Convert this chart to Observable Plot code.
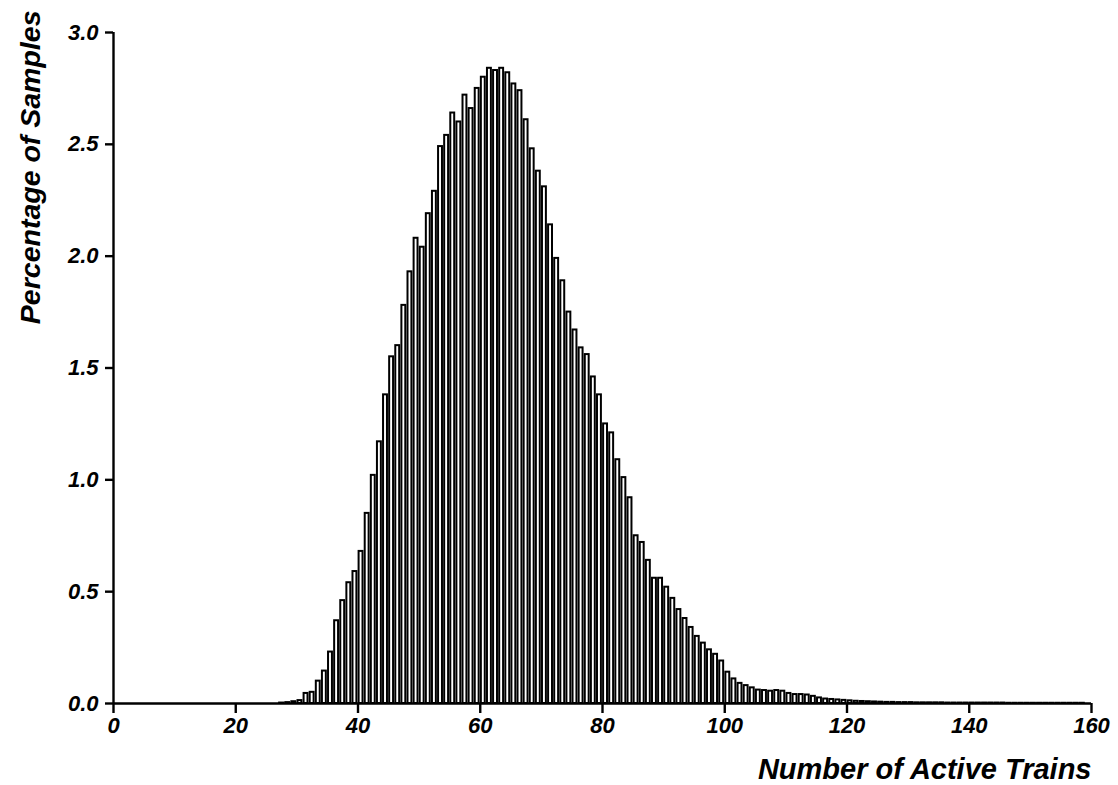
<!DOCTYPE html>
<html>
<head>
<meta charset="utf-8">
<script src="https://cdn.jsdelivr.net/npm/d3@7"></script>
<script src="https://cdn.jsdelivr.net/npm/@observablehq/plot@0.6"></script>
<style>
  html, body { margin: 0; padding: 0; background: #ffffff; }
</style>
</head>
<body>
<div id="chart"></div>
<script>
// Number of active trains (lower edge of each unit-wide bin)
const trains = [
  0,1,2,3,4,5,6,7,8,9,
  10,11,12,13,14,15,16,17,18,19,
  20,21,22,23,24,25,26,27,28,29,
  30,31,32,33,34,35,36,37,38,39,
  40,41,42,43,44,45,46,47,48,49,
  50,51,52,53,54,55,56,57,58,59,
  60,61,62,63,64,65,66,67,68,69,
  70,71,72,73,74,75,76,77,78,79,
  80,81,82,83,84,85,86,87,88,89,
  90,91,92,93,94,95,96,97,98,99,
  100,101,102,103,104,105,106,107,108,109,
  110,111,112,113,114,115,116,117,118,119,
  120,121,122,123,124,125,126,127,128,129,
  130,131,132,133,134,135,136,137,138,139,
  140,141,142,143,144,145,146,147,148,149,
  150,151,152,153,154,155,156,157,158,159
];

// Percentage of samples per bin
const percentage = [
  0,0,0,0,0,0,0,0,0,0,
  0,0,0,0,0,0,0,0,0,0,
  0,0,0,0,0,0,0,0.002,0.004,0.008,
  0.013,0.045,0.05,0.10,0.145,0.23,0.37,0.46,0.54,0.59,
  0.68,0.85,1.02,1.17,1.38,1.55,1.60,1.78,1.93,2.08,
  2.04,2.19,2.29,2.49,2.54,2.64,2.60,2.72,2.66,2.75,
  2.80,2.84,2.83,2.84,2.82,2.77,2.74,2.61,2.48,2.38,
  2.31,2.14,1.99,1.89,1.75,1.67,1.59,1.56,1.46,1.38,
  1.25,1.21,1.09,1.01,0.92,0.75,0.72,0.64,0.56,0.56,
  0.52,0.47,0.42,0.38,0.34,0.30,0.27,0.24,0.22,0.19,
  0.14,0.11,0.09,0.08,0.07,0.06,0.058,0.055,0.058,0.055,
  0.045,0.04,0.04,0.038,0.032,0.025,0.02,0.018,0.016,0.014,
  0.012,0.01,0.009,0.008,0.007,0.006,0.005,0.005,0.004,0.004,
  0.004,0.003,0.003,0.003,0.003,0.003,0.002,0.002,0.002,0.002,
  0.002,0.002,0.002,0.002,0.002,0.002,0.001,0.001,0.001,0.001,
  0.001,0.001,0.001,0.001,0.001,0.001,0.001,0.001,0.001,0
];

const xTicks = [0, 20, 40, 60, 80, 100, 120, 140, 160];
const yTicks = [0, 0.5, 1.0, 1.5, 2.0, 2.5, 3.0];
const xTitle = "Number of Active Trains";
const yTitle = "Percentage of Samples";

const bins = trains.map((t, i) => ({lo: t, hi: t + 1, v: percentage[i]}));

const font = "'Liberation Sans', Arial, Helvetica, sans-serif";

const chart = Plot.plot({
  width: 1118,
  height: 785,
  marginLeft: 113,
  marginRight: 27,
  marginTop: 32,
  marginBottom: 82,
  style: {
    fontFamily: font,
    fontStyle: "italic",
    fontWeight: "bold",
    fontSize: "21px",
    background: "#ffffff",
    color: "#000000"
  },
  x: {domain: [0, 160]},
  y: {domain: [0, 3]},
  marks: [
    Plot.rectY(bins, {
      x1: "lo", x2: "hi", y: "v",
      fill: "white", stroke: "black", strokeWidth: 2,
      insetLeft: 1.1, insetRight: 1.1
    }),
    Plot.ruleY([0], {x1: 0, x2: 160, stroke: "black", strokeWidth: 2.6}),
    Plot.ruleX([0], {y1: 0, y2: 3, stroke: "black", strokeWidth: 2.4}),
    Plot.axisX({
      ticks: xTicks, tickSize: 10, tickPadding: 4, strokeWidth: 2.4,
      label: null, fontSize: 22, fontStyle: "italic", fontWeight: "bold", fontFamily: font
    }),
    Plot.axisY({
      ticks: yTicks, tickSize: 8, tickPadding: 7, strokeWidth: 2.4,
      tickFormat: d3.format(".1f"),
      label: null, fontSize: 22, fontStyle: "italic", fontWeight: "bold", fontFamily: font
    }),
    Plot.text([xTitle], {
      frameAnchor: "bottom-right", dy: 66, textAnchor: "end", lineAnchor: "middle",
      fontSize: 29, fontStyle: "italic", fontWeight: "bold", fontFamily: font, fill: "black"
    }),
    Plot.text([yTitle], {
      frameAnchor: "top-left", dx: -83, dy: -22, rotate: -90, textAnchor: "end", lineAnchor: "middle",
      fontSize: 28.5, fontStyle: "italic", fontWeight: "bold", fontFamily: font, fill: "black"
    })
  ]
});

document.getElementById("chart").appendChild(chart);
</script>
</body>
</html>
